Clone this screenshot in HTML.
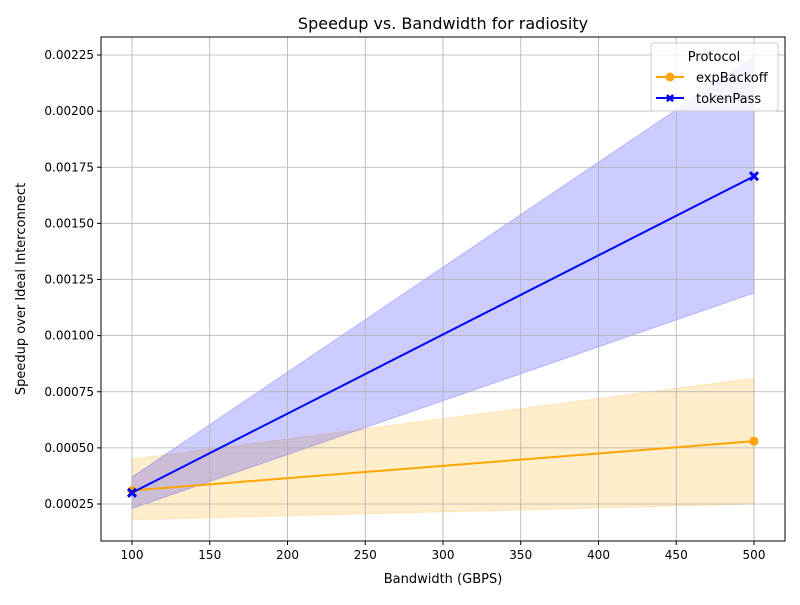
<!DOCTYPE html>
<html><head><meta charset="utf-8"><style>
body{margin:0;background:#fff;font-family:"Liberation Sans","DejaVu Sans",sans-serif}
text{font-family:"DejaVu Sans","Liberation Sans",sans-serif}
</style></head><body>
<svg id="chart" width="800" height="600" xmlns="http://www.w3.org/2000/svg">
<rect width="800" height="600" fill="#fff"/>
<g id="bands"></g>
<g id="grid"></g>
<g id="lines"></g>
<g id="axes"></g>
<text x="443" y="29" font-size="16" text-anchor="middle">Speedup vs. Bandwidth for radiosity</text>
<text x="443" y="583" font-size="13" text-anchor="middle">Bandwidth (GBPS)</text>
<text transform="translate(25,289) rotate(-90)" font-size="13" text-anchor="middle">Speedup over Ideal Interconnect</text>
<g>
<rect x="651" y="43" width="127" height="68" fill="#fff" fill-opacity="0.8" stroke="#ccc" rx="3"/>
<text x="714" y="61" font-size="13" text-anchor="middle">Protocol</text>
<line x1="656" y1="77" x2="684" y2="77" stroke="orange" stroke-width="2"/>
<circle cx="670" cy="77" r="4.5" fill="orange"/>
<text x="696" y="82" font-size="13">expBackoff</text>
<line x1="656" y1="98" x2="684" y2="98" stroke="blue" stroke-width="2"/>
<text x="670" y="102.5" font-size="12" font-weight="bold" fill="blue" text-anchor="middle">✖</text>
<text x="696" y="103" font-size="13">tokenPass</text>
</g>
</svg>
<script>
const xCats=[100,500];
const expMean=[0.00031,0.00053];
const expLo=[0.00018,0.00025];
const expHi=[0.00045,0.00081];
const tokMean=[0.00030,0.00171];
const tokLo=[0.00023,0.00119];
const tokHi=[0.00037,0.00224];
const xTicks=[100,150,200,250,300,350,400,450,500];
const yTicks=[0.00025,0.0005,0.00075,0.001,0.00125,0.0015,0.00175,0.002,0.00225];
const L=101,R=785,T=37,B=541;
const sx=v=>132+(v-100)*(754-132)/400;
const sy=v=>504-(v-0.00025)*(449/0.002);
const NS="http://www.w3.org/2000/svg";
function mk(p,tag,a){const e=document.createElementNS(NS,tag);for(const k in a)e.setAttribute(k,a[k]);p.appendChild(e);return e;}
const g=document.getElementById('grid'),ax=document.getElementById('axes'),bd=document.getElementById('bands'),ln=document.getElementById('lines');
xTicks.forEach(t=>{const x=sx(t);
 const l=mk(g,'line',{x1:x,x2:x,y1:T,y2:B,stroke:'#b0b0b0','stroke-width':0.8});
 
 
 mk(ax,'line',{x1:x,x2:x,y1:B,y2:B+4,stroke:'#000'});
 const tx=mk(ax,'text',{x:x,y:B+18,'font-size':12,'text-anchor':'middle'});tx.textContent=t;
 
 });
yTicks.forEach(t=>{const y=sy(t);
 const l=mk(g,'line',{x1:L,x2:R,y1:y,y2:y,stroke:'#b0b0b0','stroke-width':0.8});
 
 
 mk(ax,'line',{x1:L-4,x2:L,y1:y,y2:y,stroke:'#000'});
 const tx=mk(ax,'text',{x:L-7,y:y+4,'font-size':12,'text-anchor':'end'});tx.textContent=t.toFixed(5);
 
 });
mk(ax,'rect',{x:L,y:T,width:R-L,height:B-T,fill:'none',stroke:'#000','stroke-width':1});
function band(lo,hi,col,name){
 let pts=xCats.map((x,i)=>sx(x)+','+sy(hi[i])).concat(xCats.map((x,i)=>sx(x)+','+sy(lo[i])).reverse());
 const p=mk(bd,'polygon',{points:pts.join(' '),fill:col,'fill-opacity':0.2,stroke:col,'stroke-opacity':0.2});
 
 }
band(expLo,expHi,'orange','expbackoff-band');
band(tokLo,tokHi,'blue','tokenpass-band');
function line(m,col,name,marker){
 const p=mk(ln,'polyline',{points:xCats.map((x,i)=>sx(x)+','+sy(m[i])).join(' '),fill:'none',stroke:col,'stroke-width':2});
 
 
 xCats.forEach((x,i)=>{let e;
  if(marker==='o')e=mk(ln,'circle',{cx:sx(x),cy:sy(m[i]),r:4.5,fill:col});
  else{const X=sx(x),Y=sy(m[i]),d=4;e=mk(ln,'path',{d:`M${X-d},${Y-d}L${X+d},${Y+d}M${X-d},${Y+d}L${X+d},${Y-d}`,stroke:col,'stroke-width':3});}
  
  });}
line(expMean,'orange','expbackoff','o');
line(tokMean,'blue','tokenpass','x');
</script>
</body></html>
